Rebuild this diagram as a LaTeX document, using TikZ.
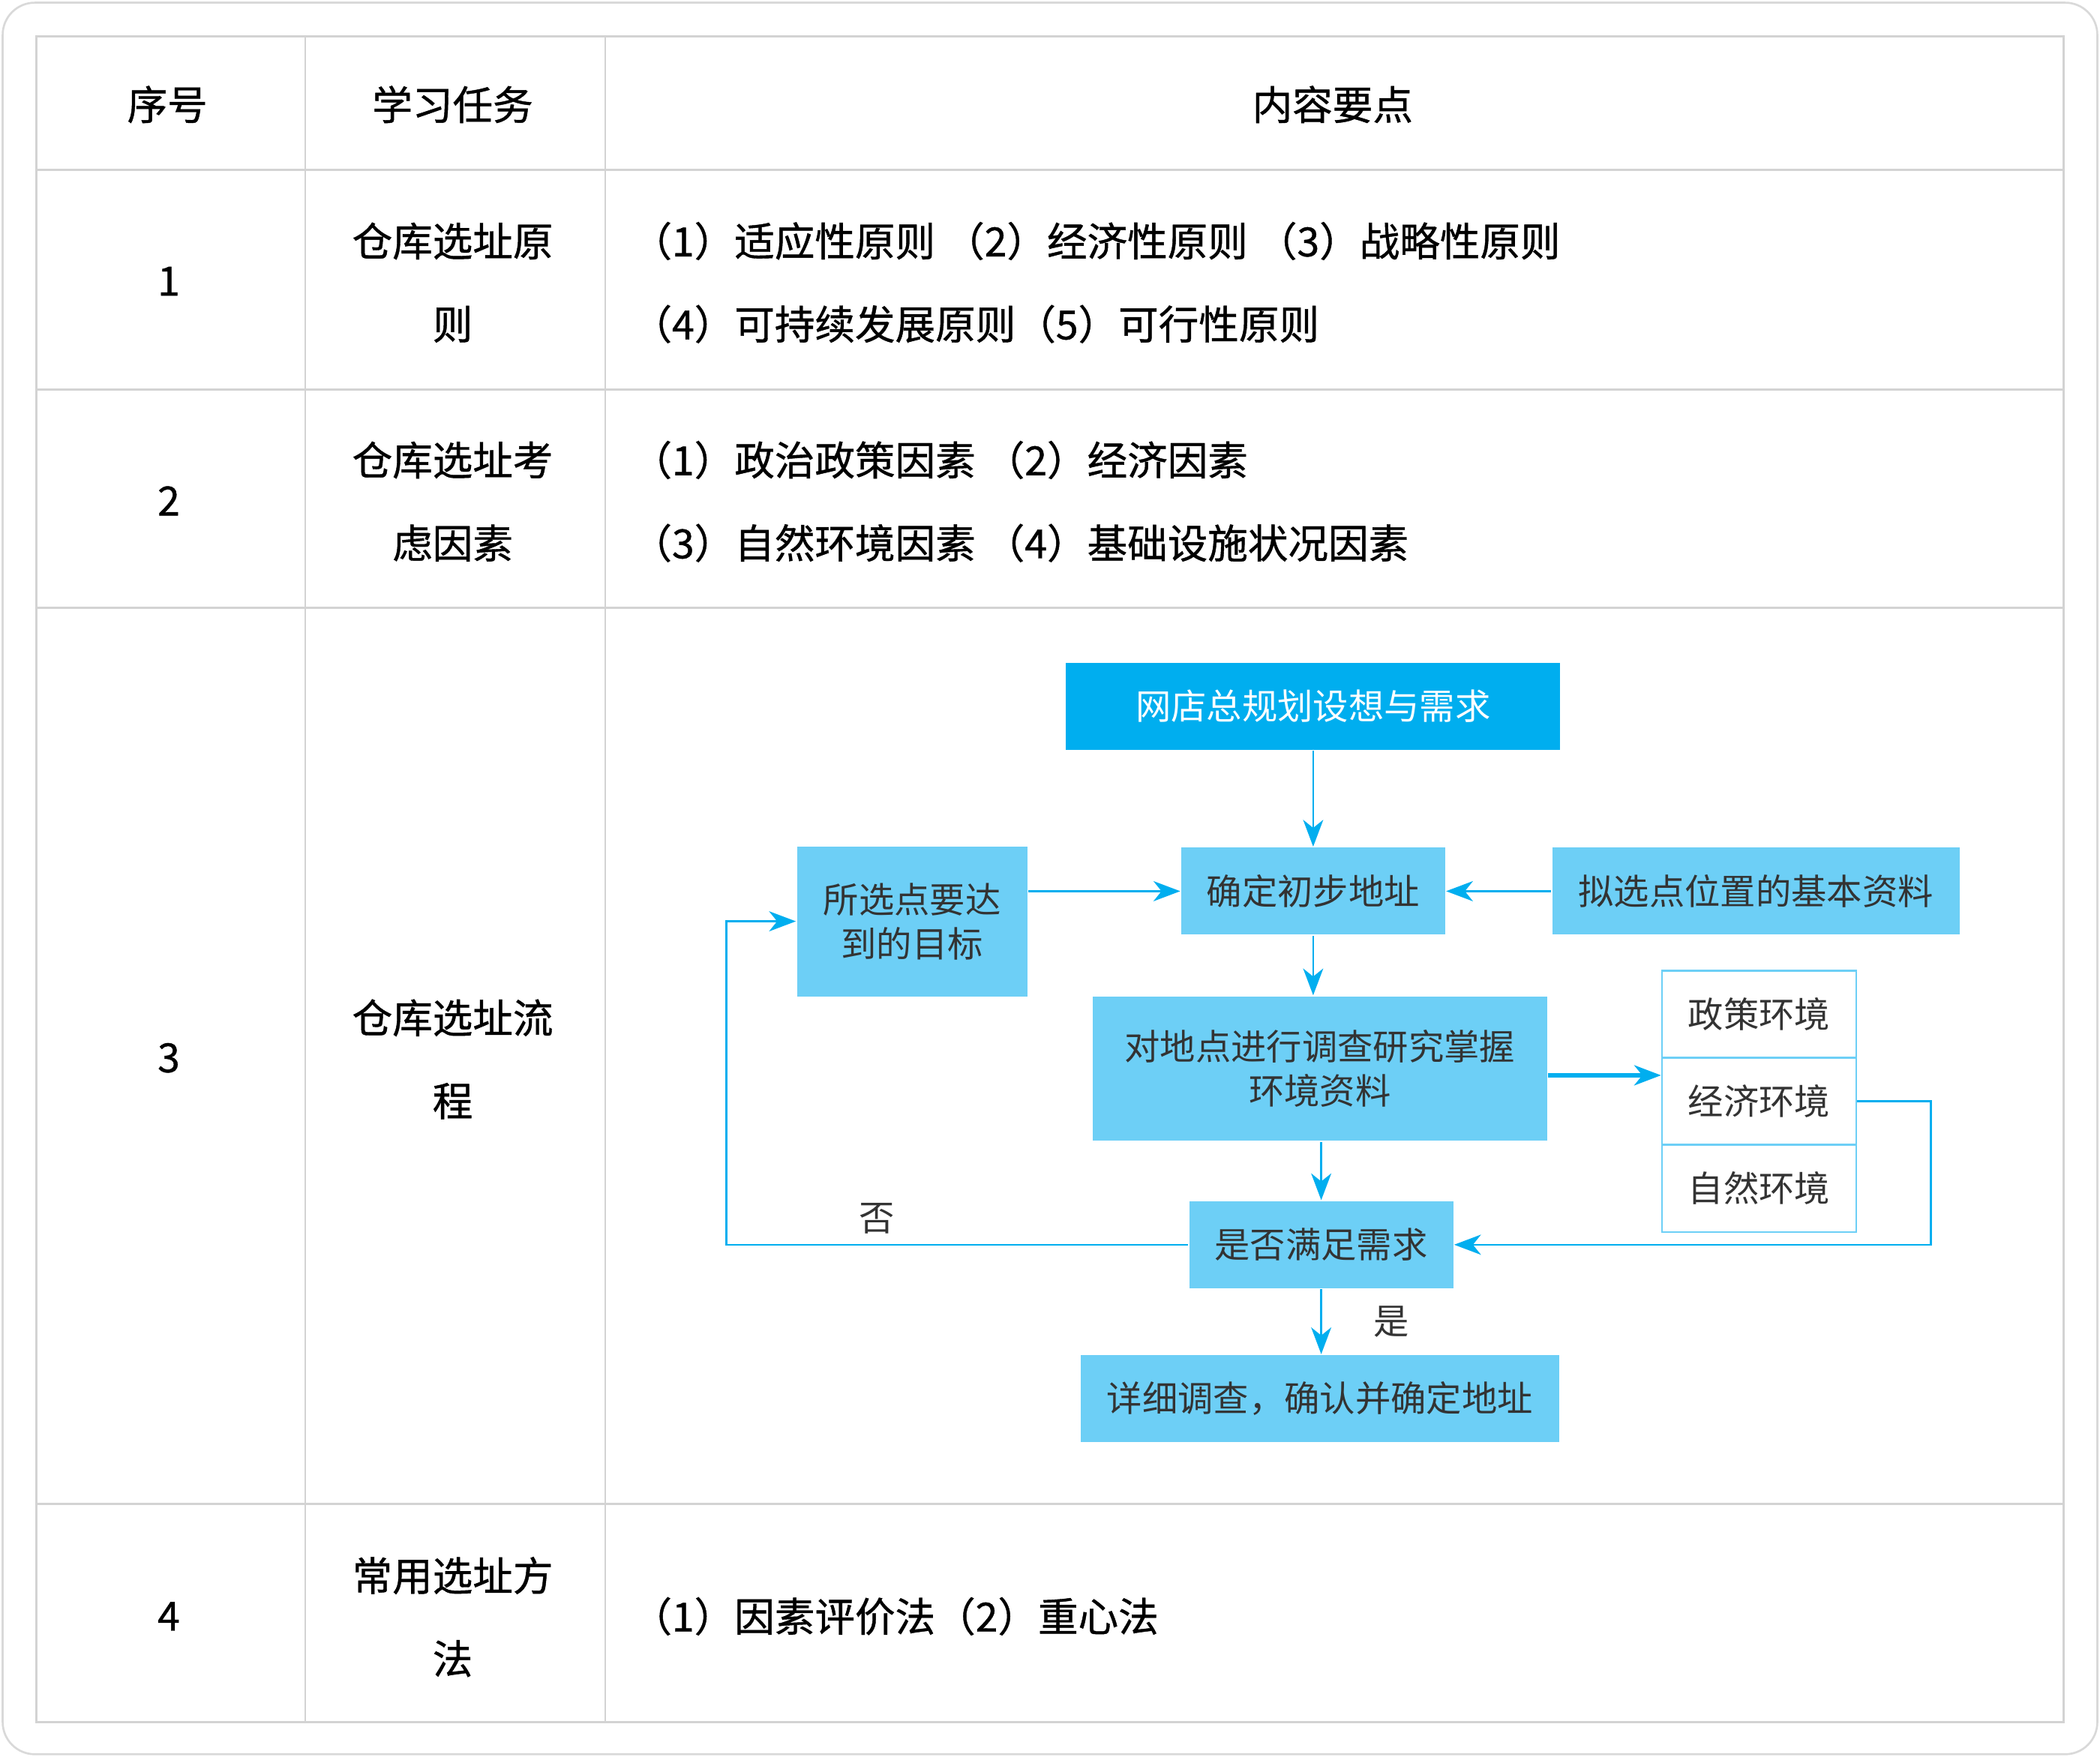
\documentclass[tikz,border=0pt]{standalone}
\usepackage{fontspec}
\setmainfont{Noto Sans CJK SC}
\newfontfamily\tablefont{Noto Sans CJK SC}[FakeBold=0.8]
\usetikzlibrary{arrows.meta,chains,positioning}
\definecolor{gridgray}{HTML}{D3D3D3}
\definecolor{framegray}{HTML}{D9D9D9}
\definecolor{deepblue}{HTML}{00AEEF}
\definecolor{paleblue}{HTML}{6DCFF6}
\definecolor{inkgray}{HTML}{333333}

\begin{document}
\begin{tikzpicture}[x=1pt,y=-1pt]
        \tikzstyle{every path}=[line width=1.5pt]

        \edef\envwidth{145pt}
        \tikzstyle{txt}=[inner sep=0pt,align=center,font=\tablefont\fontsize{30}{62}\selectfont]
        \tikzstyle{pts}=[txt,align=left,anchor=west]
        \tikzstyle{box}=[inner sep=0pt,align=center,text=inkgray,font=\fontsize{26.5}{33}\selectfont]
        \tikzstyle{headbox}=[box,fill=deepblue,text=white]
        \tikzstyle{flow}=[box,fill=paleblue]
        \tikzstyle{env}=[box,draw=paleblue,fill=white,minimum width=\envwidth,minimum height=65pt]
        \tikzstyle{link}=[draw=deepblue,-{Stealth[length=20pt,width=15pt,inset=6pt]}]

        \useasboundingbox (0,0) rectangle (1568,1312);
        \draw [framegray,rounded corners=24pt] (2,2) rectangle (1566,1310);

        %table grid
        \draw [gridgray] (27,27) rectangle (1541,1286);
        \foreach \y in {127,291,454,1123} {
            \draw [gridgray] (27,\y) -- (1541,\y);
        };
        \foreach \x in {228,452} {
            \draw [gridgray] (\x,27) -- (\x,1286);
        };

        %header
        \node [txt] at (125,78) (hd1) {序号};
        \node [txt] at (338,78) (hd2) {学习任务};
        \node [txt] at (995,78) (hd3) {内容要点};

        %numbers of the rows
        \foreach \n/\y in {1/210,2/374,3/790,4/1207} {
            \node [txt] at (126,\y) (num\n) {\n};
        };

        \node [txt] at (338,211) (task1) {仓库选址原\\则};
        \node [txt] at (338,374.5) (task2) {仓库选址考\\虑因素};
        \node [txt] at (338,791) (task3) {仓库选址流\\程};
        \node [txt] at (338,1207.5) (task4) {常用选址方\\法};

        \node [pts] at (471,211) (pt1) {（1）适应性原则 （2）经济性原则 （3）战略性原则\\（4）可持续发展原则（5）可行性原则};
        \node [pts] at (471,374.5) (pt2) {（1）政治政策因素 （2）经济因素\\（3）自然环境因素 （4）基础设施状况因素};
        \node [pts] at (471,1207) (pt4) {（1）因素评价法（2）重心法};

        %flow chart
        \node [headbox,minimum width=369pt,minimum height=65pt] at (980.5,527.5) (plan) {网店总规划设想与需求};
        \node [flow,minimum width=197pt,minimum height=65pt] at (980.5,665.5) (site) {确定初步地址};
        \node [flow,minimum width=172pt,minimum height=112pt] at (681,688) (goal) {所选点要达\\到的目标};
        \node [flow,minimum width=304pt,minimum height=65pt] at (1311,665.5) (info) {拟选点位置的基本资料};
        \node [flow,minimum width=339pt,minimum height=108pt] at (985.5,798) (survey) {对地点进行调查研究掌握\\环境资料};
        \node [flow,minimum width=197pt,minimum height=65pt] at (986.5,929.5) (check) {是否满足需求};
        \node [flow,minimum width=357pt,minimum height=65pt] at (985.5,1044.5) (final) {详细调查，确认并确定地址};

        \begin{scope}[start chain=1 going below,node distance=-1.5pt,shift={(1313.5,757.5)}]
        \node [on chain=1,env] (env1) {政策环境};
        \node [on chain=1,env] (env2) {经济环境};
        \node [on chain=1,env] (env3) {自然环境};
        \end{scope}

        \node [box] at (655,910) (no) {否};
        \node [box] at (1039,987) (yes) {是};

        \draw [link] (plan) -- (site);
        \draw [link] (goal.east |- site.west) -- (site.west);
        \draw [link] (info) -- (site);
        \draw [link] (site) -- (site |- survey.north);
        \draw [link,line width=3pt] ([yshift=-5pt]survey.east) -- ([yshift=-5pt]survey.east -| env2.west);
        \draw [link] (check |- survey.south) -- (check);
        \draw [link] (check) -- (check |- final.north);
        \draw [link] (env2.east) -- ++(55,0) |- (check.east);
        \draw [link] (check.west) -- ++(-345,0) |- (goal.west);
\end{tikzpicture}
\end{document}
